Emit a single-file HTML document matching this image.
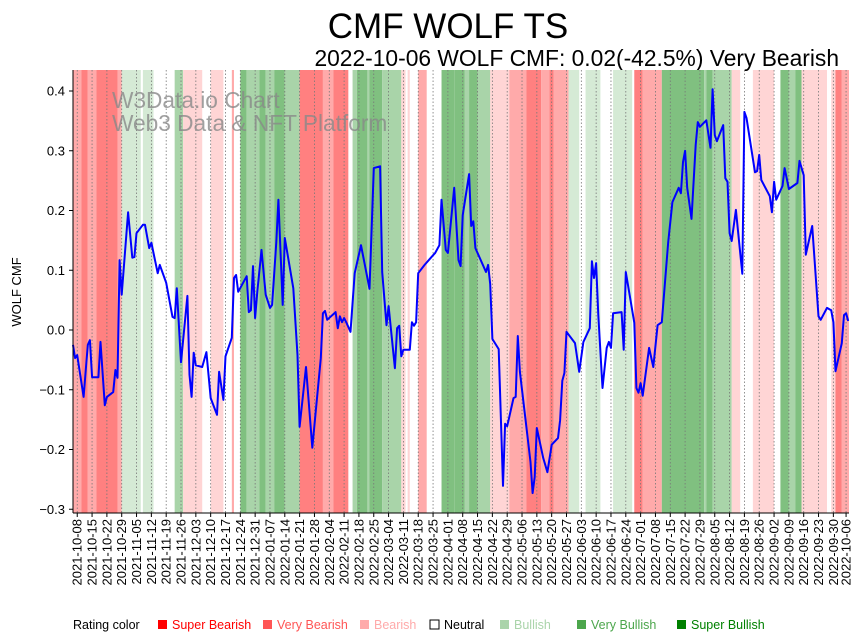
<!DOCTYPE html>
<html><head><meta charset="utf-8"><style>
html,body{margin:0;padding:0;background:#fff;}
svg{display:block;font-family:"Liberation Sans","DejaVu Sans",sans-serif;}
</style></head><body>
<svg id="chart" width="867" height="641" viewBox="0 0 867 641" xmlns="http://www.w3.org/2000/svg">
<text x="448" y="38" font-size="35" text-anchor="middle">CMF WOLF TS</text>
<text x="839" y="66" font-size="22.8" text-anchor="end">2022-10-06 WOLF CMF: 0.02(-42.5%) Very Bearish</text>
<g id="bands"></g>
<g id="grid"></g>
<text x="112" y="108" font-size="22.7" fill="#888" fill-opacity="0.8">W3Data.io Chart</text>
<text x="112" y="131" font-size="22.7" fill="#888" fill-opacity="0.8">Web3 Data &amp; NFT Platform</text>
<path id="line" fill="none" stroke="#0000ff" stroke-width="2" stroke-linejoin="round"></path>
<g id="yaxis"></g>
<g id="xaxis"></g>
<line x1="73" y1="70" x2="73" y2="513" stroke="#000" stroke-width="1"/>
<line x1="73" y1="513" x2="849" y2="513" stroke="#000" stroke-width="1"/>
<text transform="translate(21,292) rotate(-90)" font-size="13" text-anchor="middle">WOLF CMF</text>
<g id="legend" font-size="12.5"></g>
</svg>
<script>
const lineDays=[0,1,2,5,7,8,9,12,13,15,16,19,20,21,22,23,26,28,29,30,33,34,36,37,40,41,44,47,48,49,51,54,55,56,57,58,61,63,65,68,69,71,72,75,76,77,78,82,83,84,85,86,87,89,91,93,94,96,97,99,100,104,106,107,110,113,117,118,119,120,124,125,126,127,128,129,131,133,136,140,142,145,146,148,149,152,153,154,155,156,159,160,161,162,163,166,169,171,173,174,176,177,180,182,183,184,187,188,189,190,195,196,197,198,201,203,204,205,208,209,210,211,216,217,218,219,222,224,226,229,230,231,232,233,237,239,241,244,245,246,247,248,250,252,253,254,255,259,260,261,265,266,267,268,269,272,274,276,278,281,283,286,287,288,289,290,292,294,295,296,299,301,302,303,304,307,308,309,310,311,313,316,317,318,322,323,324,325,329,330,331,332,335,336,338,342,343,345,346,349,352,353,356,358,359,360,363,364,365,366];
const lineValues=[-0.025,-0.047,-0.042,-0.112,-0.025,-0.017,-0.079,-0.079,-0.020,-0.126,-0.112,-0.104,-0.067,-0.080,0.117,0.059,0.197,0.121,0.122,0.162,0.176,0.176,0.137,0.146,0.095,0.109,0.079,0.022,0.020,0.070,-0.054,0.057,-0.075,-0.112,-0.038,-0.059,-0.062,-0.037,-0.114,-0.142,-0.070,-0.117,-0.044,-0.013,0.087,0.092,0.064,0.090,0.030,0.033,0.107,0.020,0.064,0.134,0.059,0.037,0.042,0.147,0.218,0.042,0.154,0.070,-0.042,-0.162,-0.062,-0.197,-0.047,0.028,0.032,0.017,0.030,0.003,0.023,0.013,0.020,0.013,-0.003,0.095,0.142,0.069,0.271,0.274,0.097,0.008,0.040,-0.064,0.003,0.007,-0.044,-0.033,-0.033,0.013,0.007,0.013,0.095,0.109,0.121,0.129,0.142,0.218,0.134,0.129,0.238,0.117,0.107,0.192,0.261,0.174,0.182,0.137,0.097,0.109,0.077,-0.015,-0.032,-0.261,-0.157,-0.161,-0.114,-0.112,-0.010,-0.070,-0.221,-0.273,-0.246,-0.164,-0.214,-0.238,-0.192,-0.181,-0.151,-0.085,-0.072,-0.003,-0.022,-0.070,-0.020,0.003,0.115,0.087,0.112,0.025,-0.097,-0.030,-0.020,-0.030,0.028,0.030,-0.033,0.097,0.012,-0.097,-0.105,-0.089,-0.110,-0.030,-0.062,0.008,0.013,0.147,0.214,0.238,0.229,0.281,0.300,0.238,0.186,0.310,0.348,0.340,0.351,0.305,0.403,0.326,0.316,0.343,0.254,0.248,0.162,0.149,0.201,0.094,0.365,0.355,0.264,0.266,0.293,0.251,0.224,0.197,0.248,0.218,0.241,0.271,0.236,0.246,0.283,0.259,0.126,0.174,0.023,0.017,0.037,0.033,0.013,-0.069,-0.022,0.025,0.028,0.015];
const bandStart=[0,4,7,11,21,23,33,48,52,65,75,79,82,88,91,95,100,107,118,123,132,134,139,140,146,155,158,163,174,180,185,187,191,197,206,214,221,225,227,234,242,255,265,269,278,298,299,302,311,321,334,338,341,344,358,360,363];
const bandEnd=[4,7,11,21,23,32,38,52,61,71,76,82,88,91,95,100,107,118,123,130,134,139,140,146,155,157,159,167,180,185,187,191,197,206,214,221,225,227,234,239,249,264,269,278,298,299,302,311,315,331,338,341,344,356,360,363,367];
const bandRating=[-2,-3,-2,-3,-2,1,1,2,-1,-1,-2,3,2,3,2,3,2,-3,-2,-3,2,3,2,3,2,-1,-1,-2,3,3,2,3,2,-1,-2,-3,-2,-3,-2,1,1,1,-3,-2,3,2,3,2,-1,-1,3,2,3,-1,-1,-3,-2];
const yTicks=[0.4,0.3,0.2,0.1,0.0,-0.1,-0.2,-0.3];
const yTickLabels=["0.4","0.3","0.2","0.1","0.0","−0.1","−0.2","−0.3"];
const xTickDays=[2,9,16,23,30,37,44,51,58,65,72,79,86,93,100,107,114,121,128,135,142,149,156,163,170,177,184,191,198,205,212,219,226,233,240,247,254,261,268,275,282,289,296,303,310,317,324,331,338,345,352,359,365];
const legendLabels=["Super Bearish","Very Bearish","Bearish","Neutral","Bullish","Very Bullish","Super Bullish"];
const legendColors=["#ff0000","#ff5555","#ffaaaa","#ffffff","#aad4aa","#4ca64c","#008000"];
const bandColors={"-3":"#ff8080","-2":"#ffaaaa","-1":"#ffd5d5","0":"#ffffff","1":"#d5ead5","2":"#a9d4a9","3":"#80c080"};

const NS="http://www.w3.org/2000/svg";
const X0=73, PXD=2.118, Y0=330, PXV=597.5, TOP=70, BOT=513;
const xs=d=>X0+d*PXD;
const ys=v=>Y0-v*PXV;
function mk(tag,attrs,parent){const e=document.createElementNS(NS,tag);for(const k in attrs)e.setAttribute(k,attrs[k]);parent.appendChild(e);return e;}

const bands=document.getElementById('bands');
for(let i=0;i<bandStart.length;i++){
  if(bandRating[i]===0)continue;
  const x1=Math.max(X0,xs(bandStart[i])), x2=Math.min(849,xs(bandEnd[i]));
  const r=mk('rect',{x:x1,y:TOP,width:Math.max(0,x2-x1),height:BOT-TOP,fill:bandColors[String(bandRating[i])]},bands);
  
  
}

const start=new Date(Date.UTC(2021,9,6));
const grid=document.getElementById('grid'), xaxis=document.getElementById('xaxis');
xTickDays.forEach(d=>{
  const x=xs(d);
  const g=mk('line',{x1:x,y1:TOP,x2:x,y2:BOT,stroke:'#777','stroke-width':0.8,'stroke-dasharray':'1.5,2'},grid);
  
  
  mk('line',{x1:x,y1:BOT,x2:x,y2:BOT+4,stroke:'#000'},xaxis);
  const dt=new Date(start.getTime()+d*86400000);
  const lbl=dt.toISOString().slice(0,10);
  const t=mk('text',{transform:`translate(${x+4.5},${BOT+6}) rotate(-90)`,'font-size':13,'text-anchor':'end'},xaxis);
  
  
  t.textContent=lbl;
});

const yaxis=document.getElementById('yaxis');
yTicks.forEach((v,i)=>{
  const y=ys(v);
  mk('line',{x1:X0-4,y1:y,x2:X0,y2:y,stroke:'#000'},yaxis);
  const t=mk('text',{x:X0-8,y:y+4.5,'font-size':13,'text-anchor':'end'},yaxis);
  
  
  t.textContent=yTickLabels[i];
});

let dpath='';
lineDays.forEach((d,i)=>{dpath+=(i?'L':'M')+xs(d).toFixed(1)+','+ys(lineValues[i]).toFixed(1);});
document.getElementById('line').setAttribute('d',dpath);

const legend=document.getElementById('legend');
const lt=mk('text',{x:73,y:629},legend);


lt.textContent='Rating color';
const legendX=[158,263,360,430,500,577,677];
legendLabels.forEach((l,i)=>{
  const g=mk('g',{},legend);
  
  
  mk('rect',{x:legendX[i],y:620,width:9,height:9,fill:legendColors[i],stroke:i===3?'#000':'none','stroke-width':1},g);
  const t=mk('text',{x:legendX[i]+14,y:629,fill:i===3?'#000':legendColors[i]},g);
  t.textContent=l;
});
</script>
</body></html>
